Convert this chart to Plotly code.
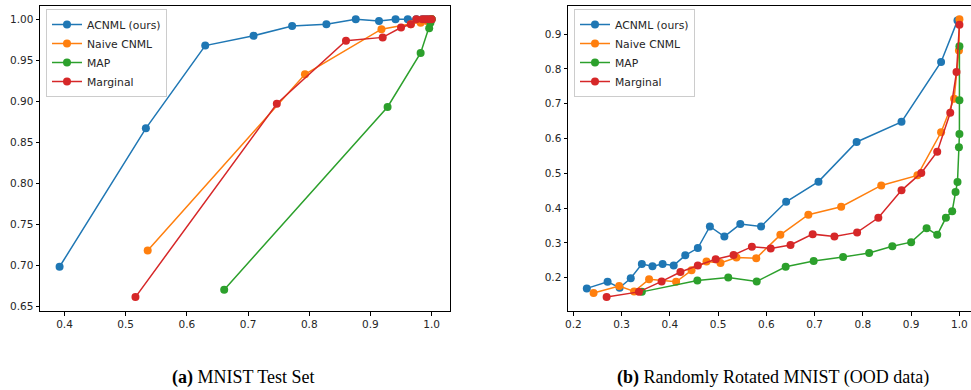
import plotly.graph_objects as go

# ---------------- data: (a) MNIST Test Set ----------------
a_acnml_x = [0.392, 0.533, 0.630, 0.709, 0.772, 0.828, 0.876, 0.914, 0.941, 0.961, 0.975, 0.985, 0.990, 0.995, 1.000]
a_acnml_y = [0.698, 0.867, 0.968, 0.980, 0.992, 0.994, 1.000, 0.998, 1.000, 1.000, 1.000, 1.000, 1.000, 1.000, 1.000]
a_naive_x = [0.536, 0.793, 0.918, 0.966, 0.982, 0.992, 0.997, 1.000]
a_naive_y = [0.718, 0.933, 0.988, 0.994, 0.996, 0.998, 0.999, 1.000]
a_map_x = [0.661, 0.928, 0.982, 0.996, 0.998, 1.000]
a_map_y = [0.670, 0.893, 0.959, 0.989, 0.996, 1.000]
a_marg_x = [0.516, 0.747, 0.860, 0.920, 0.950, 0.966, 0.975, 0.985, 0.990, 0.995, 1.000]
a_marg_y = [0.661, 0.897, 0.974, 0.978, 0.990, 0.994, 1.000, 1.000, 1.000, 1.000, 1.000]

# ---------------- data: (b) Randomly Rotated MNIST ----------------
b_acnml_x = [0.228, 0.271, 0.296, 0.319, 0.342, 0.364, 0.385, 0.408, 0.432, 0.458, 0.483, 0.513,
             0.546, 0.589, 0.641, 0.708, 0.787, 0.880, 0.962, 0.996]
b_acnml_y = [0.169, 0.188, 0.171, 0.198, 0.239, 0.233, 0.239, 0.235, 0.264, 0.285, 0.347, 0.318,
             0.354, 0.347, 0.418, 0.476, 0.590, 0.648, 0.820, 0.939]
b_naive_x = [0.242, 0.295, 0.326, 0.357, 0.413, 0.445, 0.476, 0.505, 0.538, 0.579, 0.629, 0.687,
             0.755, 0.838, 0.913, 0.962, 0.989, 0.999, 1.000]
b_naive_y = [0.156, 0.176, 0.160, 0.195, 0.188, 0.221, 0.246, 0.242, 0.258, 0.256, 0.323, 0.381,
             0.404, 0.465, 0.494, 0.618, 0.714, 0.853, 0.943]
b_map_x = [0.342, 0.457, 0.521, 0.580, 0.640, 0.698, 0.759, 0.813, 0.861, 0.900, 0.932, 0.954,
           0.972, 0.985, 0.992, 0.996, 0.999, 1.000, 1.000, 1.000]
b_map_y = [0.159, 0.192, 0.200, 0.189, 0.231, 0.248, 0.259, 0.271, 0.290, 0.302, 0.342, 0.323,
           0.372, 0.391, 0.446, 0.475, 0.575, 0.613, 0.710, 0.865]
b_marg_x = [0.269, 0.336, 0.383, 0.422, 0.458, 0.495, 0.532, 0.570, 0.609, 0.650, 0.696, 0.741,
            0.788, 0.832, 0.880, 0.921, 0.954, 0.981, 0.994, 1.000]
b_marg_y = [0.144, 0.159, 0.189, 0.216, 0.235, 0.253, 0.265, 0.289, 0.284, 0.294, 0.325, 0.318,
            0.330, 0.372, 0.451, 0.501, 0.562, 0.674, 0.791, 0.927]

names = ["ACNML (ours)", "Naive CNML", "MAP", "Marginal"]
colors = ["#1f77b4", "#ff7f0e", "#2ca02c", "#d62728"]

a_x_ticks = [0.4, 0.5, 0.6, 0.7, 0.8, 0.9, 1.0]
a_y_ticks = [0.65, 0.70, 0.75, 0.80, 0.85, 0.90, 0.95, 1.00]
b_x_ticks = [0.2, 0.3, 0.4, 0.5, 0.6, 0.7, 0.8, 0.9, 1.0]
b_y_ticks = [0.2, 0.3, 0.4, 0.5, 0.6, 0.7, 0.8, 0.9]

captions = ["<b>(a)</b> MNIST Test Set", "<b>(b)</b> Randomly Rotated MNIST (OOD data)"]

fig = go.Figure()

panel_a = [(a_acnml_x, a_acnml_y), (a_naive_x, a_naive_y), (a_map_x, a_map_y), (a_marg_x, a_marg_y)]
panel_b = [(b_acnml_x, b_acnml_y), (b_naive_x, b_naive_y), (b_map_x, b_map_y), (b_marg_x, b_marg_y)]

for i, (x, y) in enumerate(panel_a):
    fig.add_trace(go.Scatter(x=x, y=y, mode="lines+markers", name=names[i],
                             line=dict(color=colors[i], width=1.5),
                             marker=dict(color=colors[i], size=8),
                             xaxis="x", yaxis="y", legend="legend"))
for i, (x, y) in enumerate(panel_b):
    fig.add_trace(go.Scatter(x=x, y=y, mode="lines+markers", name=names[i],
                             line=dict(color=colors[i], width=1.5),
                             marker=dict(color=colors[i], size=8),
                             xaxis="x2", yaxis="y2", legend="legend2"))

L, R, T, B = 40, 0, 6, 79
W, H = 971, 390
pw = W - L - R
ph = H - T - B
dom_a = [0, (450 - L) / pw]
dom_b = [(568 - L) / pw, 1]

axis_common = dict(showgrid=False, zeroline=False, showline=True, mirror=True,
                   linecolor="#000000", linewidth=1, ticks="outside", ticklen=3.5,
                   tickwidth=0.8, tickcolor="#000000",
                   tickfont=dict(family="DejaVu Sans", size=10.5, color="#262626"))

legend_common = dict(xanchor="left", yanchor="top",
                     bgcolor="rgba(255,255,255,0.8)", bordercolor="#cccccc", borderwidth=1,
                     font=dict(family="DejaVu Sans", size=10.8, color="#262626"),
                     tracegroupgap=0, itemwidth=30)

fig.update_layout(
    width=W, height=H,
    margin=dict(l=L, r=R, t=T, b=B),
    paper_bgcolor="white", plot_bgcolor="white",
    xaxis=dict(domain=dom_a, range=[0.360, 1.030], tickvals=a_x_ticks,
               ticktext=[f"{v:.1f}" for v in a_x_ticks], anchor="y", **axis_common),
    yaxis=dict(range=[0.644, 1.0163], tickvals=a_y_ticks,
               ticktext=[f"{v:.2f}" for v in a_y_ticks], anchor="x", **axis_common),
    xaxis2=dict(domain=dom_b, range=[0.189, 1.024], tickvals=b_x_ticks,
                ticktext=[f"{v:.1f}" for v in b_x_ticks], anchor="y2", **axis_common),
    yaxis2=dict(range=[0.104, 0.981], tickvals=b_y_ticks,
                ticktext=[f"{v:.1f}" for v in b_y_ticks], anchor="x2", **axis_common),
    legend=dict(x=(46 - L) / pw, y=1 - 3 / ph, **legend_common),
    legend2=dict(x=(574 - L) / pw, y=1 - 3 / ph, **legend_common),
)

# captions, positioned by pixel centre then converted to paper coordinates
cap_px = [(243, 377), (773, 377)]
for text, (cx, cy) in zip(captions, cap_px):
    fig.add_annotation(text=text, x=(cx - L) / pw, y=((H - cy) - B) / ph,
                       xref="paper", yref="paper", showarrow=False,
                       xanchor="center", yanchor="middle",
                       font=dict(family="Liberation Serif", size=18, color="#000000"))

fig.write_html("out.html")
